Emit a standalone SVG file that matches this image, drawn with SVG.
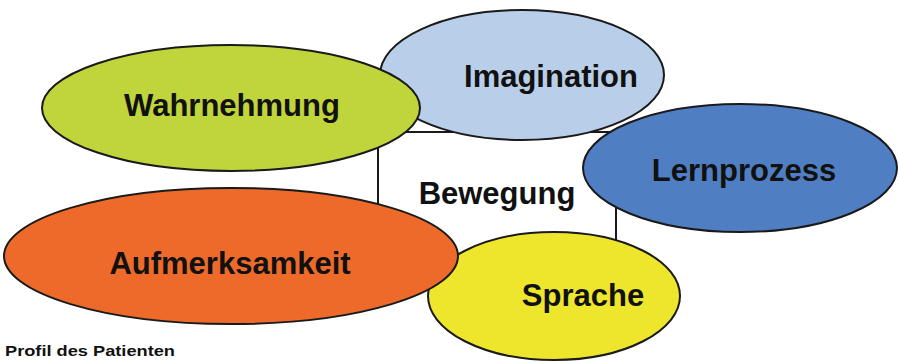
<svg xmlns="http://www.w3.org/2000/svg" width="899" height="362" viewBox="0 0 899 362">
<style>
.e{stroke:#1a1a1a;stroke-width:2}
.t{font-family:"Liberation Sans",Arial,sans-serif;font-weight:bold;font-size:31px;fill:#111;text-anchor:middle}
</style>
<rect width="899" height="362" fill="#ffffff"/>
<g id="connectors">
<rect x="378" y="132" width="238" height="123" fill="#ffffff" stroke="#1a1a1a" stroke-width="2"/>
</g>
<g id="bewegung"><text class="t" x="497" y="204">Bewegung</text></g>
<g id="imagination"><ellipse class="e" cx="522" cy="75" rx="142" ry="65" fill="#B9CFE9"/><text class="t" x="551" y="87">Imagination</text></g>
<g id="wahrnehmung"><ellipse class="e" cx="231" cy="108" rx="189" ry="63" fill="#C0D43C"/><text class="t" x="232" y="116">Wahrnehmung</text></g>
<g id="lernprozess"><ellipse class="e" cx="740" cy="168" rx="157" ry="64" fill="#4F7FC2"/><text class="t" x="744" y="181">Lernprozess</text></g>
<g id="sprache"><ellipse class="e" cx="554" cy="296" rx="126" ry="64" fill="#EEE62C"/><text class="t" x="583" y="306">Sprache</text></g>
<g id="aufmerksamkeit"><ellipse class="e" cx="231" cy="256" rx="227" ry="68" fill="#EE6A2A"/><text class="t" x="230" y="274">Aufmerksamkeit</text></g>
<text x="5" y="356" font-family="'Liberation Sans',Arial,sans-serif" font-weight="bold" font-size="15" textLength="170" lengthAdjust="spacingAndGlyphs" fill="#111">Profil des Patienten</text>
</svg>
